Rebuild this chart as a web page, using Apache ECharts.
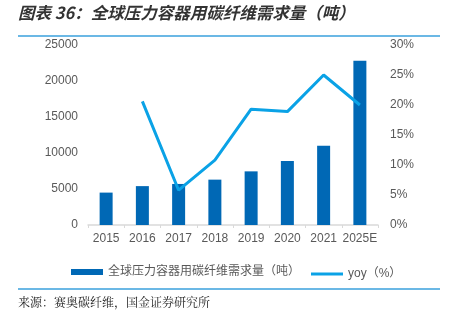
<!DOCTYPE html>
<html><head><meta charset="utf-8">
<script src="https://cdn.jsdelivr.net/npm/echarts@6/dist/echarts.min.js"></script>
<style>html,body{margin:0;padding:0;background:#fff}#c{width:451px;height:323px}</style>
</head><body><div id="c"></div>
<script>
const categories = ['2015','2016','2017','2018','2019','2020','2021','2025E'];
const demand = [4500, 5400, 5700, 6300, 7450, 8900, 11000, 22800];
const yoy = [null, 20.6, 5.8, 10.8, 19.3, 18.9, 25.0, 20.0];
const leftTicks = [0, 5000, 10000, 15000, 20000, 25000];
const rightTicks = [0, 5, 10, 15, 20, 25, 30];
const barName = '全球压力容器用碳纤维需求量（吨）';
const lineName = 'yoy（%）';
const titleText = '图表 36：全球压力容器用碳纤维需求量（吨）';
const sourceText = '来源：赛奥碳纤维，国金证券研究所';

const font = '"Liberation Sans", "Noto Sans CJK SC", sans-serif';
const cjk = '"Noto Sans CJK SC", sans-serif';
const chart = echarts.init(document.getElementById('c'), null, {renderer:'canvas'});
chart.setOption({
  animation:false,
  textStyle:{fontFamily:font},
  graphic:[
    {type:'text', left:18, top:4, style:{text:titleText, font:'italic bold 16.5px ' + cjk, fill:'#333'}},
    {type:'line', shape:{x1:18,y1:36,x2:440,y2:36}, style:{stroke:'#3aa0dc', lineWidth:1.5}},
    {type:'line', shape:{x1:18,y1:289,x2:440,y2:289}, style:{stroke:'#3aa0dc', lineWidth:1.5}},
    {type:'text', left:18, top:296, style:{text:sourceText, font:'12px "Noto Serif CJK SC", ' + cjk, fill:'#222'}}
  ],
  grid:{left:88, right:73, top:45, bottom:98},
  legend:[
    {data:[{name:barName, icon:'rect'}], left:66, top:261, itemWidth:32, itemHeight:6, itemGap:4,
     textStyle:{color:'#595959', fontSize:12, fontFamily:font}},
    {data:[{name:lineName, icon:'rect'}], left:306, top:263, itemWidth:32, itemHeight:3,
     textStyle:{color:'#595959', fontSize:12, fontFamily:font}}
  ],
  xAxis:{type:'category', data:categories,
    axisLine:{lineStyle:{color:'#d9d9d9', width:1.5}},
    axisTick:{show:true, length:3, lineStyle:{color:'#d9d9d9'}},
    axisLabel:{color:'#595959', fontSize:12, margin:8, interval:0}},
  yAxis:[
    {type:'value', min:0, max:25000, interval:5000, splitLine:{show:false},
     axisLine:{show:false}, axisTick:{show:false},
     axisLabel:{color:'#595959', fontSize:12, margin:10, formatter:v=>String(v)}},
    {type:'value', min:0, max:30, interval:5, splitLine:{show:false},
     axisLine:{show:false}, axisTick:{show:false},
     axisLabel:{color:'#595959', fontSize:12, margin:12, formatter:'{value}%'}}
  ],
  series:[
    {name:barName, type:'bar', data:demand, barWidth:13, itemStyle:{color:'#0068b5'}},
    {name:lineName, type:'line', yAxisIndex:1, data:yoy, symbol:'none',
     lineStyle:{color:'#0aa2e6', width:3}, itemStyle:{color:'#0aa2e6'}}
  ]
});
</script></body></html>
